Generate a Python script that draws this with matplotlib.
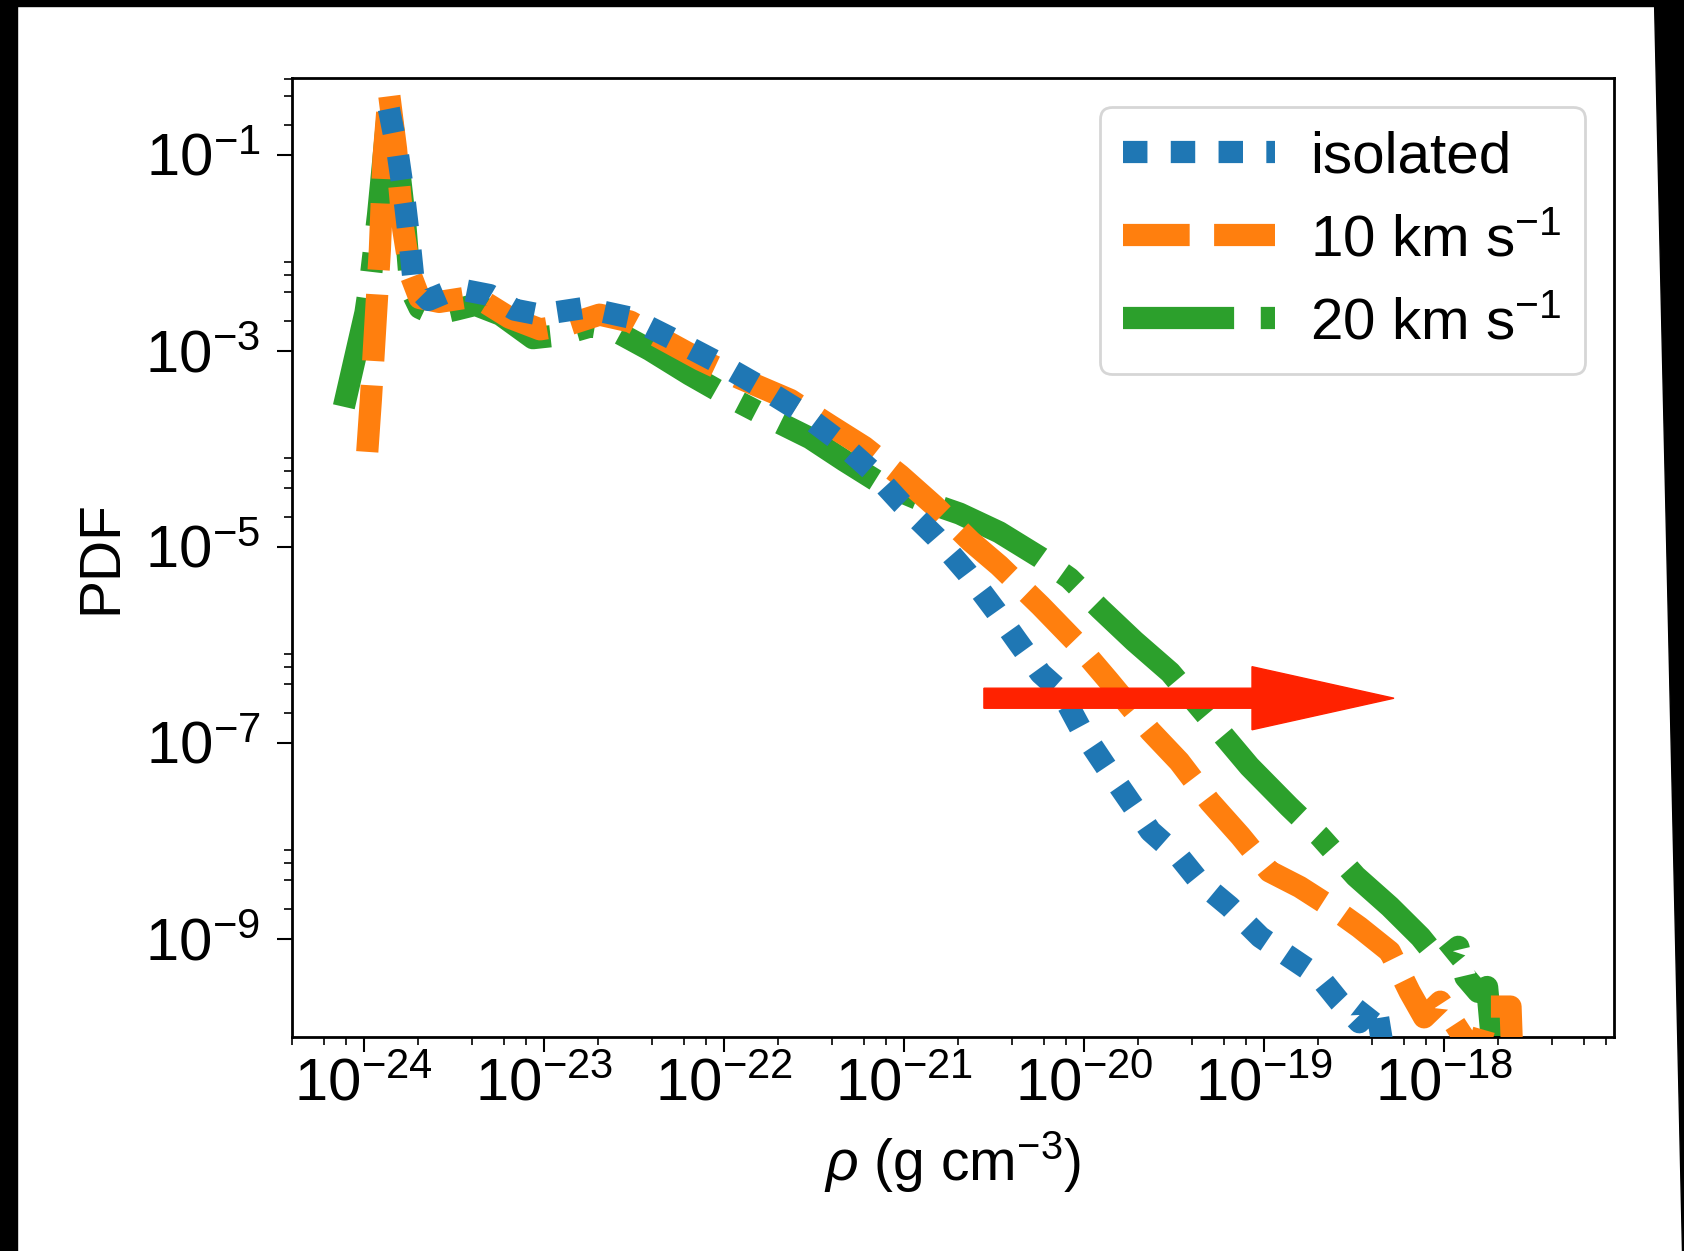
import numpy as np
import matplotlib
matplotlib.use("Agg")
import matplotlib.pyplot as plt
from matplotlib.patches import FancyArrow, Rectangle, Polygon
from matplotlib.ticker import FixedLocator, NullFormatter, LogFormatterSciNotation

plt.rcParams['font.family'] = ['Liberation Sans', 'DejaVu Sans']
plt.rcParams['mathtext.fontset'] = 'custom'
plt.rcParams['mathtext.rm'] = 'Liberation Sans'
plt.rcParams['mathtext.it'] = 'Liberation Sans:italic'
plt.rcParams['mathtext.bf'] = 'Liberation Sans:bold'

# log10(rho) and log10(PDF)
iso_logrho = [-23.86, -23.81, -23.77, -23.74, -23.72, -23.64, -23.55, -23.44, -23.30, -23.16,
              -23.02, -22.77, -22.52, -22.27, -22.03, -21.81, -21.59, -21.38, -21.18, -21.01,
              -20.82, -20.65, -20.49, -20.37, -20.24, -20.13, -20.01, -19.86, -19.63, -19.47,
              -19.36, -19.19, -19.02, -18.86, -18.69, -18.58, -18.47, -18.38, -18.33]
iso_logpdf = [-0.53, -0.99, -1.50, -1.97, -2.33, -2.48, -2.41, -2.38, -2.43, -2.58,
              -2.63, -2.56, -2.66, -2.89, -3.12, -3.35, -3.60, -3.89, -4.22, -4.56,
              -4.90, -5.26, -5.65, -5.96, -6.29, -6.47, -6.88, -7.29, -7.90, -8.16,
              -8.41, -8.67, -8.98, -9.18, -9.39, -9.64, -9.85, -9.64, -10.2]

v10_logrho = [-23.98, -23.96, -23.94, -23.91, -23.89, -23.86, -23.82, -23.78, -23.74, -23.69,
              -23.58, -23.44, -23.33, -23.19, -23.02, -22.86, -22.69, -22.52, -22.36, -22.13,
              -21.91, -21.63, -21.41, -21.22, -21.02, -20.83, -20.63, -20.47, -20.24, -20.05,
              -19.86, -19.63, -19.47, -19.30, -19.13, -18.97, -18.80, -18.63, -18.47, -18.30,
              -18.19, -18.11, -18.02, -17.91, -17.82, -17.74, -17.63, -17.62]
v10_logpdf = [-4.03, -3.50, -2.89, -1.97, -1.04, -0.36, -0.94, -1.76, -2.22, -2.46,
              -2.50, -2.46, -2.50, -2.66, -2.78, -2.73, -2.63, -2.70, -2.86, -3.09,
              -3.28, -3.50, -3.76, -3.98, -4.27, -4.58, -4.94, -5.19, -5.60, -5.96,
              -6.37, -6.88, -7.19, -7.60, -7.95, -8.31, -8.47, -8.67, -8.88, -9.13,
              -9.54, -9.80, -9.64, -9.95, -10.2, -9.69, -9.69, -10.2]

v20_logrho = [-24.11, -24.05, -23.99, -23.96, -23.92, -23.89, -23.86, -23.81, -23.77, -23.74,
              -23.69, -23.61, -23.49, -23.38, -23.24, -23.06, -22.91, -22.74, -22.61, -22.41,
              -22.19, -21.97, -21.74, -21.52, -21.33, -21.13, -20.91, -20.69, -20.47, -20.24,
              -20.08, -19.91, -19.72, -19.52, -19.30, -19.08, -18.86, -18.69, -18.49, -18.30,
              -18.13, -18.02, -17.92, -17.88, -17.81, -17.76, -17.73]
v20_logpdf = [-3.57, -3.09, -2.61, -2.24, -1.61, -1.04, -0.46, -1.04, -1.68, -2.37,
              -2.56, -2.63, -2.58, -2.53, -2.63, -2.87, -2.84, -2.75, -2.79, -2.99,
              -3.24, -3.47, -3.69, -3.89, -4.12, -4.35, -4.52, -4.66, -4.85, -5.11,
              -5.32, -5.63, -5.96, -6.28, -6.76, -7.24, -7.65, -7.95, -8.36, -8.67,
              -8.98, -9.23, -9.08, -9.39, -9.54, -9.49, -10.1]

labels = ['isolated', r'10 km s$^{-1}$', r'20 km s$^{-1}$']
colors = ['#1f77b4', '#ff7f0e', '#2ca02c']

fig = plt.figure(figsize=(16.84, 12.51), dpi=100)
ax = fig.add_axes([0.1734, 0.1711, 0.7850, 0.7666])

lw = 16
h3, = ax.plot(10 ** np.array(v20_logrho), 10 ** np.array(v20_logpdf), color=colors[2], lw=lw,
              dashes=(5.0, 1.2, 0.85, 1.2), label=labels[2], zorder=2)
h2, = ax.plot(10 ** np.array(v10_logrho), 10 ** np.array(v10_logpdf), color=colors[1], lw=lw,
              dashes=(3.0, 1.1), label=labels[1], zorder=3)
h1, = ax.plot(10 ** np.array(iso_logrho), 10 ** np.array(iso_logpdf), color=colors[0], lw=lw,
              dashes=(1.1, 1.05), label=labels[0], zorder=4)

ax.set_xscale('log')
ax.set_yscale('log')
ax.set_xlim(4e-25, 8.8e-18)
ax.set_ylim(1e-10, 0.61)

ax.xaxis.set_major_locator(FixedLocator([10.0 ** k for k in range(-24, -17)]))
ax.xaxis.set_minor_locator(FixedLocator([s * 10.0 ** k for k in range(-25, -17) for s in (2, 4, 6, 8)]))
ax.yaxis.set_major_locator(FixedLocator([10.0 ** k for k in (-1, -3, -5, -7, -9)]))
ax.yaxis.set_minor_locator(FixedLocator([s * 10.0 ** k for k in (-1, -3, -5, -7, -9) for s in (2, 4, 6, 8)]))
ax.xaxis.set_major_formatter(LogFormatterSciNotation())
ax.yaxis.set_major_formatter(LogFormatterSciNotation())
ax.xaxis.set_minor_formatter(NullFormatter())
ax.yaxis.set_minor_formatter(NullFormatter())

ax.tick_params(which='major', length=11, width=1.5, labelsize=43)
ax.tick_params(which='minor', length=6, width=1.2)
ax.tick_params(axis='x', which='major', pad=4)
ax.tick_params(axis='y', which='major', pad=12)
for sp in ax.spines.values():
    sp.set_linewidth(2)

ax.set_xlabel(r'$\rho$ (g cm$^{-3}$)', fontsize=41, labelpad=12)
ax.set_ylabel('PDF', fontsize=41, labelpad=12)

leg = ax.legend(handles=[h1, h2, h3], loc='upper right', fontsize=42, handlelength=2.6,
                handletextpad=0.6, borderpad=0.4, labelspacing=0.5, fancybox=True)
leg.get_frame().set_edgecolor('0.8')
leg.get_frame().set_linewidth(2)

# red arrow
ax.add_patch(FancyArrow(0.5234, 0.3532, 0.3102, 0.0, width=0.0209, head_width=0.0658,
                        head_length=0.1074, length_includes_head=True, color='#ff2200',
                        transform=ax.transAxes, zorder=6, clip_on=False))

# black frame remnants around the screenshot
fig.patches.append(Rectangle((0, 0), 17 / 1684, 1, transform=fig.transFigure, color='black', zorder=10))
fig.patches.append(Rectangle((0, 1 - 6 / 1251), 1, 6 / 1251, transform=fig.transFigure, color='black', zorder=10))
fig.patches.append(Polygon([(1654 / 1684, 1), (1, 1), (1, 0), (1682 / 1684, 0)], closed=True,
                           transform=fig.transFigure, color='black', zorder=10))

fig.savefig('out.png', dpi=100)
